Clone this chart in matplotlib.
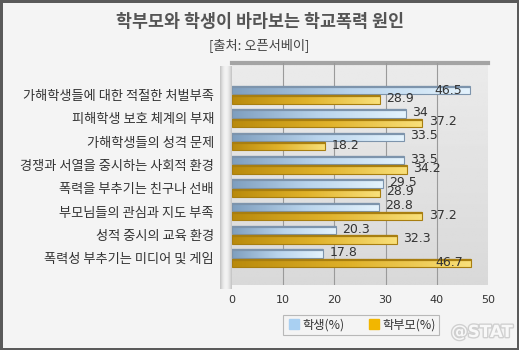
import numpy as np
import matplotlib
matplotlib.use("Agg")
import matplotlib.pyplot as plt
from matplotlib.lines import Line2D
import matplotlib.patheffects as pe

plt.rcParams['font.family'] = ['Noto Sans CJK KR', 'DejaVu Sans']

# data
categories = ['가해학생들에 대한 적절한 처벌부족', '피해학생 보호 체계의 부재', '가해학생들의 성격 문제',
              '경쟁과 서열을 중시하는 사회적 환경', '폭력을 부추기는 친구나 선배',
              '부모님들의 관심과 지도 부족', '성적 중시의 교육 환경', '폭력성 부추기는 미디어 및 게임']
students = [46.5, 34, 33.5, 33.5, 29.5, 28.8, 20.3, 17.8]
parents = [28.9, 37.2, 18.2, 34.2, 28.9, 37.2, 32.3, 46.7]
series_names = ['학생(%)', '학부모(%)']
xticks = [0, 10, 20, 30, 40, 50]

W, H = 519, 350
fig = plt.figure(figsize=(W / 100, H / 100), dpi=100)
fig.patch.set_facecolor('#f4f4f4')
fig.patch.set_edgecolor('#5a5a5a')
fig.patch.set_linewidth(2.5)


def px_axes(x0, y0, x1, y1):
    return fig.add_axes([x0 / W, 1 - y1 / H, (x1 - x0) / W, (y1 - y0) / H])


# left cylinder wall
cyl = px_axes(220, 66, 232, 289)
grad = np.linspace(0, 1, 50)
cyl_vals = 0.6 + 0.35 * np.sin(np.pi * (0.15 + 0.7 * grad))
cyl.imshow(np.tile(cyl_vals, (10, 1)), cmap='gray', vmin=0, vmax=1, aspect='auto',
           extent=[0, 1, 0, 1])
cyl.axis('off')

ax = px_axes(232, 63, 488, 285)
# back wall gradient
wall = np.linspace(0.92, 0.85, 100)
ax.imshow(np.tile(wall[:, None], (1, 10)), cmap='gray', vmin=0, vmax=1, aspect='auto',
          extent=[0, 50, 8.15, -1.37], zorder=0)
for s in ax.spines.values():
    s.set_visible(False)
ax.plot([0, 50], [-1.37, -1.37], color='#a4a4a4', lw=3, zorder=1, clip_on=False)
for t in xticks[1:-1]:
    ax.axvline(t, color='#9a9a9a', lw=0.8, zorder=1)

ax.set_xticks(xticks)
ax.set_xticklabels([str(t) for t in xticks], fontsize=8, color='#333333', family='DejaVu Sans')
ax.tick_params(axis='x', length=0, pad=7)
y = np.arange(len(categories))
ax.set_yticks(y)
ax.set_yticklabels(categories, fontsize=9.5, color='#333333')
ax.tick_params(axis='y', length=0, pad=13)

h = 0.36
offs = [-0.2, 0.2]
cmaps = [
    matplotlib.colors.LinearSegmentedColormap.from_list('s', ['#7f9fbf', '#b9d4ec', '#e4f3fd']),
    matplotlib.colors.LinearSegmentedColormap.from_list('p', ['#b98a0c', '#e0b22a', '#f9e07a']),
]
edges = ['#7d94ac', '#a87e10']
for vals, off, cm, ec in zip([students, parents], offs, cmaps, edges):
    for i, v in enumerate(vals):
        bars = ax.barh(i + off, v, height=h, color='none', edgecolor=ec, lw=0.8, zorder=3)
        patch = bars[0]
        im = ax.imshow(np.linspace(0, 1, 100)[None, :], cmap=cm, aspect='auto',
                       extent=[0, v, i + off + h / 2, i + off - h / 2], zorder=2)
        im.set_clip_path(patch)
        ax.plot([0, v], [i + off - h / 2 + 0.04] * 2, color=ec, lw=1.6, zorder=3,
                solid_capstyle='butt')
        txt = f'{v:g}'
        if v > 44:
            ax.text(v - 1.6, i + off, txt, ha='right', va='center', fontsize=9,
                    color='#333333', family='DejaVu Sans', zorder=4)
        else:
            ax.text(v + 1.2, i + off - 0.05, txt, ha='left', va='center', fontsize=9,
                    color='#333333', family='DejaVu Sans', zorder=4)

ax.set_ylim(8.15, -1.37)
ax.set_xlim(0, 50)

fig.text(259.5 / W, 1 - 22 / H, '학부모와 학생이 바라보는 학교폭력 원인', ha='center', va='center',
         fontsize=12.5, fontweight='bold', color='#555555')
fig.text(259.5 / W, 1 - 45 / H, '[출처: 오픈서베이]', ha='center', va='center',
         fontsize=9.5, color='#444444')

handles = [Line2D([], [], marker='s', ls='none', markersize=7, color='#a9d0f2'),
           Line2D([], [], marker='s', ls='none', markersize=7, color='#f2b600')]
leg = fig.legend(handles, series_names, loc='center', bbox_to_anchor=(361 / W, 1 - 325 / H),
                 ncol=2, fontsize=8.8, frameon=True, fancybox=False, handletextpad=0.1,
                 columnspacing=1.8, borderpad=0.3, handlelength=1.2, labelcolor='#333333')
leg.get_frame().set_edgecolor('#aaaaaa')
leg.get_frame().set_facecolor('#f4f4f4')
leg.get_frame().set_linewidth(0.8)

fig.text(482 / W, 1 - 332 / H, '@STAT', ha='center', va='center', fontsize=12,
         fontweight='bold', color='#f8f8f8', family='DejaVu Sans',
         path_effects=[pe.withStroke(linewidth=2, foreground='#d0d0d0')])

fig.savefig('out.png', dpi=100, facecolor=fig.get_facecolor(), edgecolor=fig.get_edgecolor())
